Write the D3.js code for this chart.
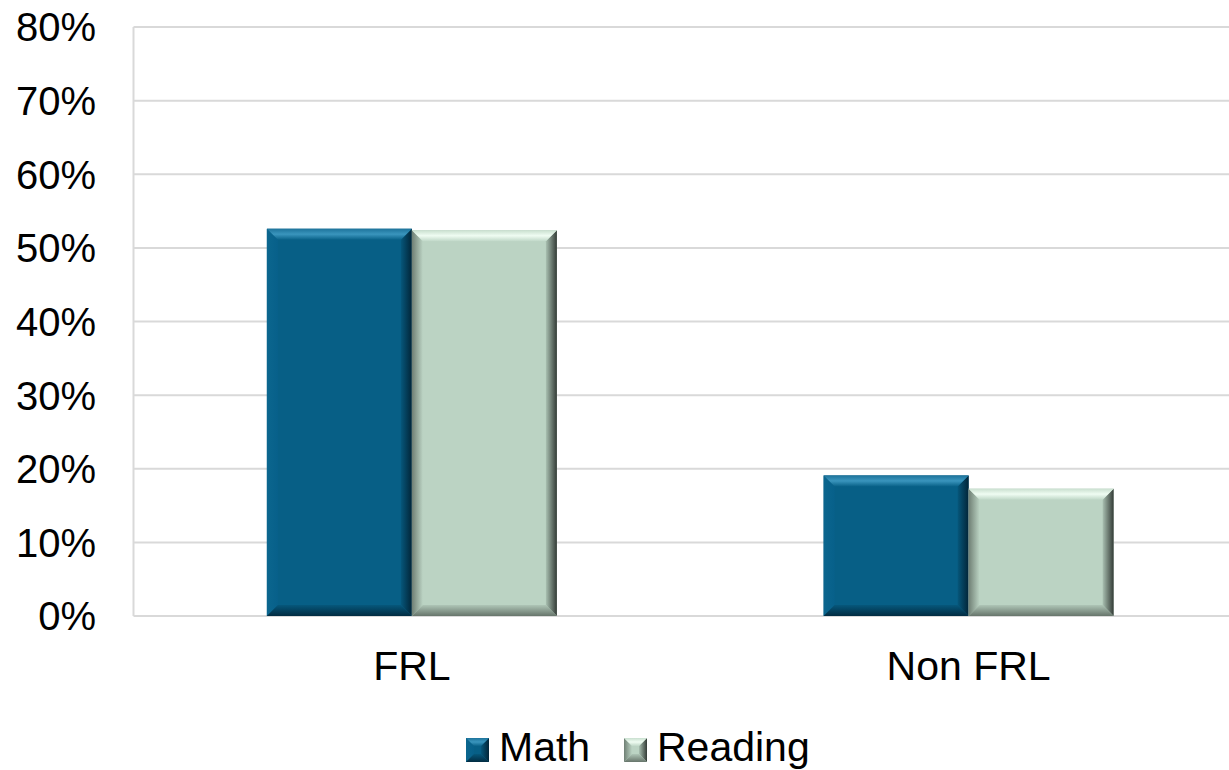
<!DOCTYPE html>
<html>
<head>
<meta charset="utf-8">
<script src="https://cdn.jsdelivr.net/npm/d3@7"></script>
<style>
  html, body { margin: 0; padding: 0; background: #ffffff; }
  svg { display: block; font-family: "Liberation Sans", Arial, sans-serif; }
</style>
</head>
<body>
<svg id="chart" width="1229" height="770"></svg>
<script>
// Share of students by group, for each subject
const categories = ["FRL", "Non FRL"];
const seriesNames = ["Math", "Reading"];
const mathValues = [0.526, 0.191];
const readingValues = [0.524, 0.173];
const yTicks = [0, 0.1, 0.2, 0.3, 0.4, 0.5, 0.6, 0.7, 0.8];

// base fill plus the shading used on each bevelled face (outer edge -> inner edge)
const palette = {
  Math: {
    base: "#075f86",
    top: ["#1d739b", "#3a95bd", "#0a6289"],
    left: ["#0b668e", "#07608a"],
    right: ["#022538", "#06577b"],
    bottom: ["#022c42", "#06577b"]
  },
  Reading: {
    base: "#bbd3c3",
    top: ["#c9dfcf", "#effcf2", "#c0d8c8"],
    left: ["#6f7f74", "#bbd3c3"],
    right: ["#333b36", "#a9c0b1"],
    bottom: ["#67756b", "#aec5b6"]
  }
};

const svg = d3.select("#chart");
const defs = svg.append("defs");
const margin = { left: 133.5, top: 27, bottom: 616 };
const plotRight = 1247;

const x = d3.scaleBand().domain(categories).range([margin.left, plotRight]);
const xs = d3.scaleBand().domain(seriesNames).range([0, 290]);
const y = d3.scaleLinear().domain([0, 0.8]).range([margin.bottom, margin.top]);

// gradients for faces; objectBoundingBox so they scale to each polygon
function grad(id, stops, dir) {
  const g = defs.append("linearGradient").attr("id", id);
  if (dir === "down") g.attr("x1", 0).attr("y1", 0).attr("x2", 0).attr("y2", 1);
  if (dir === "up") g.attr("x1", 0).attr("y1", 1).attr("x2", 0).attr("y2", 0);
  if (dir === "right") g.attr("x1", 0).attr("y1", 0).attr("x2", 1).attr("y2", 0);
  if (dir === "left") g.attr("x1", 1).attr("y1", 0).attr("x2", 0).attr("y2", 0);
  stops.forEach((c, i) => g.append("stop")
    .attr("offset", stops.length === 1 ? 0 : i / (stops.length - 1))
    .attr("stop-color", c));
}
seriesNames.forEach(s => {
  const p = palette[s];
  grad(`top-${s}`, p.top, "down");
  grad(`left-${s}`, p.left, "right");
  grad(`right-${s}`, p.right, "left");
  grad(`bottom-${s}`, p.bottom, "up");
});

// gridlines
svg.append("g")
  .selectAll("line")
  .data(yTicks)
  .join("line")
  .attr("x1", margin.left).attr("x2", 1229)
  .attr("y1", d => y(d)).attr("y2", d => y(d))
  .attr("stroke", "#d9d9d9").attr("stroke-width", 2);

// vertical axis line
svg.append("line")
  .attr("x1", margin.left).attr("x2", margin.left)
  .attr("y1", y(0.8)).attr("y2", y(0))
  .attr("stroke", "#d9d9d9").attr("stroke-width", 2);

// y tick labels
svg.append("g")
  .selectAll("text")
  .data(yTicks)
  .join("text")
  .attr("x", 96)
  .attr("y", d => y(d))
  .attr("dy", "0.36em")
  .attr("text-anchor", "end")
  .attr("font-size", 40)
  .attr("fill", "#000")
  .text(d3.format(".0%"));

const rows = [];
categories.forEach((c, i) => {
  rows.push({ cat: c, s: "Math", v: mathValues[i] });
  rows.push({ cat: c, s: "Reading", v: readingValues[i] });
});

function bevelBar(g, x0, y0, w, h, s, bevel) {
  const b = Math.min(bevel, h / 2, w / 2);
  g.append("rect").attr("x", x0).attr("y", y0).attr("width", w).attr("height", h)
    .attr("fill", palette[s].base);
  const x1 = x0 + w, y1 = y0 + h;
  const faces = [
    { k: "left", pts: [[x0, y0], [x0 + b, y0 + b], [x0 + b, y1 - b], [x0, y1]] },
    { k: "right", pts: [[x1, y0], [x1, y1], [x1 - b, y1 - b], [x1 - b, y0 + b]] },
    { k: "bottom", pts: [[x0, y1], [x0 + b, y1 - b], [x1 - b, y1 - b], [x1, y1]] },
    { k: "top", pts: [[x0, y0], [x1, y0], [x1 - b, y0 + b], [x0 + b, y0 + b]] }
  ];
  g.selectAll(null).data(faces).join("polygon")
    .attr("points", d => d.pts.map(p => p.join(",")).join(" "))
    .attr("fill", d => `url(#${d.k}-${s})`);
}

// bars
const barG = svg.append("g");
rows.forEach(r => {
  const bx = x(r.cat) + (x.bandwidth() - 290) / 2 + xs(r.s);
  const by = y(r.v);
  bevelBar(barG.append("g"), bx, by, xs.bandwidth(), y(0) - by, r.s, 11);
});

// category labels
svg.append("g")
  .selectAll("text")
  .data(categories)
  .join("text")
  .attr("x", d => x(d) + x.bandwidth() / 2)
  .attr("y", 680)
  .attr("text-anchor", "middle")
  .attr("font-size", 41)
  .text(d => d);

// legend
const legend = [{ s: "Math", x: 466 }, { s: "Reading", x: 624 }];
legend.forEach(l => {
  const g = svg.append("g");
  bevelBar(g, l.x, 738, 23, 24, l.s, 8);
  g.append("text").attr("x", l.x + 33).attr("y", 761).attr("font-size", 41).text(l.s);
});
</script>
</body>
</html>
